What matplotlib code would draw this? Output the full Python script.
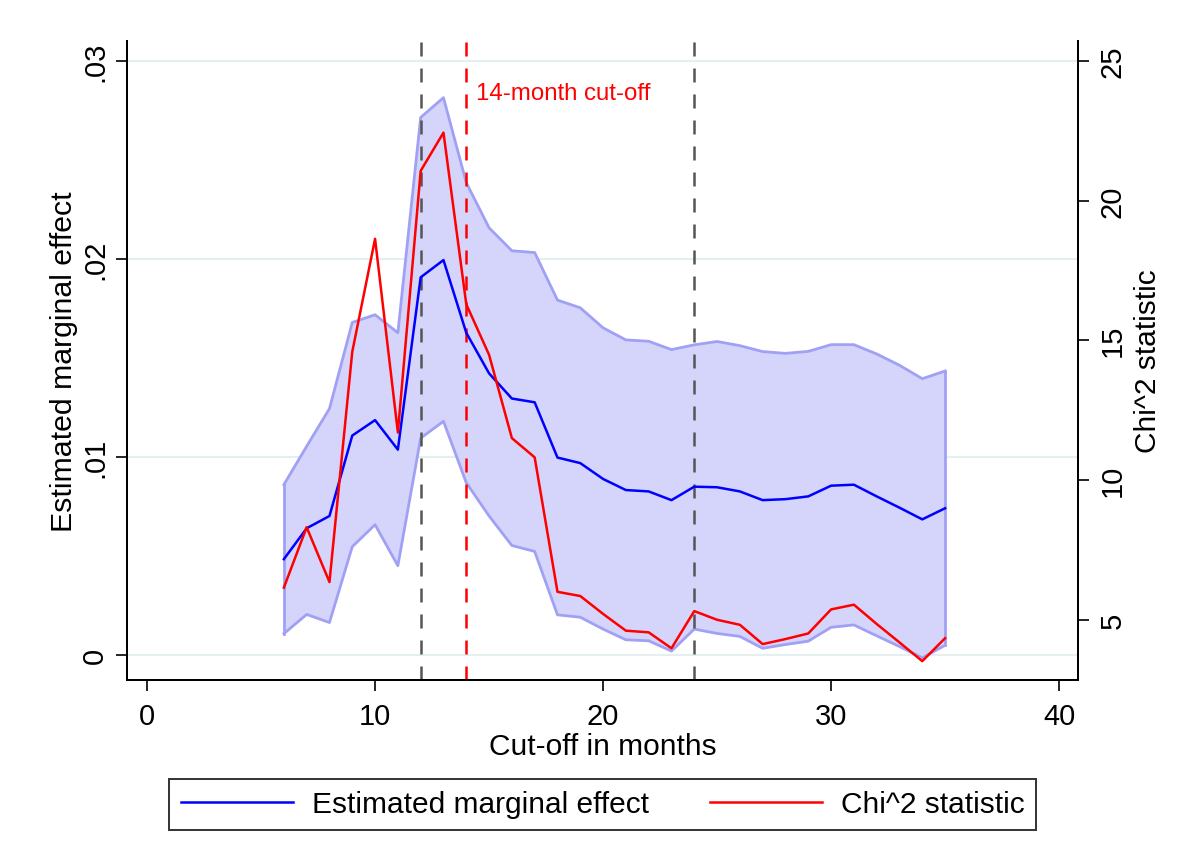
import matplotlib.pyplot as plt

plt.rcParams['font.family'] = ['Liberation Sans', 'DejaVu Sans']

months = list(range(6, 36))

effect = [0.00484, 0.0064, 0.00702, 0.01108, 0.01186, 0.01037, 0.01907, 0.01994, 0.01627, 0.01422,
          0.01295, 0.01276, 0.00997, 0.00969, 0.00889, 0.00833, 0.00826, 0.00782, 0.0085, 0.00847,
          0.00826, 0.00782, 0.00787, 0.00801, 0.00855, 0.0086, 0.00801, 0.00744, 0.00685, 0.00741]

ci_upper = [0.0086, 0.01054, 0.01244, 0.01679, 0.01718, 0.01627, 0.02714, 0.02814, 0.02385, 0.02157,
            0.02041, 0.02032, 0.01792, 0.01753, 0.01652, 0.01591, 0.01584, 0.01542, 0.01566, 0.01583,
            0.01562, 0.01532, 0.01523, 0.01533, 0.01567, 0.01567, 0.0152, 0.01463, 0.01395, 0.01434]

ci_lower = [0.00108, 0.00205, 0.00164, 0.00547, 0.00658, 0.00451, 0.01095, 0.0118, 0.0087, 0.00702,
            0.00553, 0.00523, 0.00203, 0.00191, 0.00131, 0.00077, 0.00072, 0.0002, 0.00131, 0.00109,
            0.00094, 0.00034, 0.00053, 0.0007, 0.0014, 0.00152, 0.00097, 0.00043, -0.00014, 0.00049]

chi2 = [6.15, 8.31, 6.35, 14.59, 18.63, 11.7, 21.06, 22.43, 16.29, 14.48,
        11.5, 10.81, 6.0, 5.85, 5.21, 4.61, 4.55, 3.98, 5.31, 5.0,
        4.82, 4.13, 4.31, 4.51, 5.37, 5.54, 4.85, 4.19, 3.52, 4.34]

cutoff_ref = [12, 24]
cutoff_main = 14

fig = plt.figure(figsize=(11.79, 8.62), dpi=100)
ax = fig.add_axes([127 / 1179, 1 - 681 / 862, (1078 - 127) / 1179, (681 - 42) / 862])
ax2 = ax.twinx()

# left axis: estimate with confidence band
band = '#a0a0f5'
ax.fill_between(months, ci_lower, ci_upper, color='#d5d5fb', lw=0, zorder=1)
ax.plot(months, ci_upper, color=band, lw=2, zorder=2)
ax.plot(months, ci_lower, color=band, lw=2, zorder=2)
ax.plot([months[0], months[0]], [ci_lower[0], ci_upper[0]], color=band, lw=2, zorder=2)
ax.plot([months[-1], months[-1]], [ci_lower[-1], ci_upper[-1]], color=band, lw=2, zorder=2)
line_eff, = ax.plot(months, effect, color='#0000ff', lw=1.8, zorder=4)

dash = (0, (5.6, 4.8))
for c in cutoff_ref:
    ax.axvline(c, color='#555555', lw=1.8, ls=dash, zorder=3)
ax.axvline(cutoff_main, color='#ff0000', lw=1.8, ls=dash, zorder=3)
ax.text(cutoff_main + 0.43, 0.02808, '14-month cut-off', color='#ff0000', fontsize=17.3, va='baseline')

# right axis: chi^2
line_chi, = ax2.plot(months, chi2, color='#ff0000', lw=1.8, zorder=5)

ax.set_xlim(-0.88, 40.83)
ax.set_ylim(-0.00126, 0.0310)
ax2.set_ylim(3.738 + 708.7 * -0.00126, 3.738 + 708.7 * 0.0310)

ax.set_xticks([0, 10, 20, 30, 40])
ax.set_yticks([0, 0.01, 0.02, 0.03])
ax.set_yticklabels(['0', '.01', '.02', '.03'])
ax2.set_yticks([5, 10, 15, 20, 25])

ax.grid(axis='y', color='#e6eff0', lw=1.5, zorder=0)
ax.set_axisbelow(True)

for a in (ax, ax2):
    a.spines['top'].set_visible(False)
    for s in ('left', 'right', 'bottom'):
        a.spines[s].set_linewidth(1.4)
    a.tick_params(length=8, width=1.2, labelsize=21)
ax.tick_params(axis='x', pad=8)
ax.tick_params(axis='y', labelrotation=90, pad=5)
ax2.tick_params(axis='y', labelrotation=90, pad=7)
for lab in ax.get_yticklabels() + ax2.get_yticklabels():
    lab.set_va('center')

ax.set_xlabel('Cut-off in months', fontsize=21.5, labelpad=1)
ax.set_ylabel('Estimated marginal effect', fontsize=21.8, labelpad=2)
ax2.set_ylabel('Chi^2 statistic', fontsize=21.5, labelpad=5)

leg = fig.legend([line_eff, line_chi], ['Estimated marginal effect', 'Chi^2 statistic'],
                 loc='center', bbox_to_anchor=(602.5 / 1179, 1 - 805.5 / 862), ncol=2,
                 fontsize=21.5, frameon=True, fancybox=False, edgecolor='black',
                 handlelength=3.75, handletextpad=0.64, columnspacing=2.04, borderpad=0.4)
leg.get_frame().set_linewidth(1.4)

plt.savefig('out.png', dpi=100)
